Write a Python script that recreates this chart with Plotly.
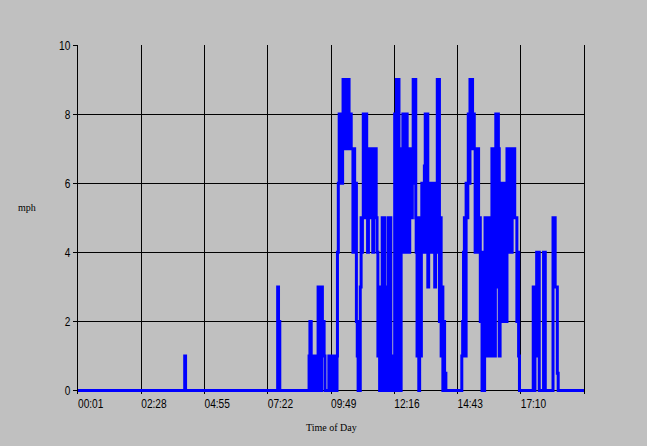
import plotly.graph_objects as go

# Time labels on the x axis (minutes after midnight for each gridline)
tick_minutes = [1, 148, 295, 442, 589, 736, 883, 1030, 1177]
tick_labels = ["00:01", "02:28", "04:55", "07:22", "09:49", "12:16", "14:43", "17:10", ""]
y_ticks = [0, 2, 4, 6, 8, 10]

# Wind speed readings (minutes after midnight, mph); each value holds until the next reading
minutes = [
    1, 249, 251, 465, 467, 470,
    538, 540, 543, 545, 547, 549, 551, 553, 555, 557, 559, 561, 563, 565, 567, 569, 571, 573, 575,
    584, 586, 588, 590, 592, 594, 596, 598, 600, 602,
    603, 604, 606, 608, 610, 612, 614, 616,
    617, 619, 621, 623, 625, 627, 629, 631,
    632, 634, 636, 638, 640, 642, 644, 646, 648,
    650, 652, 654, 656, 657, 659, 661, 662, 664, 667, 669,
    672, 674, 676, 678, 680, 682, 684, 686, 688, 690, 692, 694,
    696, 698, 700, 702, 704, 706, 708, 710, 712, 714, 716, 718, 720, 722, 724, 726, 728, 730, 732, 734,
    735, 737, 739, 741, 743, 745, 747, 748, 750, 752,
    754, 756, 758, 760, 762, 764, 766, 768, 770, 772,
    774, 776, 778, 780, 782, 784, 786,
    787, 789, 791, 793, 795, 797, 799,
    800, 802, 804, 806, 808, 810, 812, 814, 816, 818, 820, 822, 824, 826, 828, 830, 832, 834,
    836, 838, 840,
    841, 843, 845, 847, 849, 851, 853, 854, 856,
    893, 895, 897, 899, 901, 903, 905, 907,
    908, 910, 912, 914, 916, 918, 920,
    922, 924, 926, 928, 930, 932, 934,
    936, 938, 940, 942, 944, 946,
    947, 949, 951, 953, 955, 957, 959, 961,
    963, 965, 967, 969, 971, 972, 974, 976, 978, 980,
    982, 984, 986, 988, 990, 992, 994, 996,
    998, 1000, 1002, 1004, 1006, 1008, 1010, 1012, 1014, 1016,
    1018, 1021, 1023, 1025, 1027,
    1059, 1061, 1063, 1065, 1067, 1069, 1071, 1073,
    1083, 1087,
    1105, 1110, 1115, 1117, 1177,
]
mph = [
    0, 1, 0, 3, 2, 0,
    1, 2, 1, 0, 1, 0, 1, 0, 1, 0, 3, 1, 3, 0, 3, 1, 2, 1, 0,
    1, 0, 1, 0, 1, 0, 1, 0, 1, 0,
    1, 4, 6, 8, 6, 8, 6, 8,
    9, 7, 9, 8, 9, 7, 9, 8,
    7, 8, 7, 7, 4, 7, 4, 6, 2,
    1, 0, 1, 0, 3, 5, 4, 5, 8, 5, 8,
    7, 4, 7, 5, 7, 5, 7, 4, 7, 5, 7, 5,
    4, 1, 3, 0, 2, 0, 5, 0, 5, 1, 3, 0, 2, 5, 0, 5, 0, 1, 0, 1,
    0, 8, 0, 9, 2, 9, 0, 7, 0, 7,
    4, 8, 5, 8, 4, 8, 5, 7, 4, 7,
    6, 5, 6, 9, 6, 9, 5,
    4, 1, 5, 0, 3, 1, 4,
    6, 4, 6, 6.5, 8, 4, 8, 3, 6, 4, 6, 5, 6, 4, 6, 3, 6, 4,
    9, 5, 9,
    2, 5, 1, 3, 0, 2, 0, 0.5, 0,
    1, 2, 4, 5, 1, 6, 5, 6,
    8, 6, 9, 8, 9, 7, 8,
    7, 4, 7, 4, 7, 4, 5,
    2, 4, 0, 1, 0, 2,
    5, 1, 4, 1, 5, 2, 5, 1,
    7, 3, 7, 1, 7, 8, 3, 8, 7, 1,
    6, 2, 6, 3, 6, 2, 5, 2,
    7, 4, 7, 5, 7, 4, 7, 5, 7, 5,
    5, 2, 4, 1, 0,
    3, 0, 3, 1, 4, 2, 4, 0,
    4, 0,
    5, 3, 0.5, 0, 0,
]

fig = go.Figure()
fig.add_trace(go.Scatter(
    x=minutes, y=mph, mode="lines",
    line=dict(color="#0000FF", width=3, shape="hv"),
    showlegend=False, hoverinfo="skip",
))

tick_font = dict(family="Liberation Sans, Arial, sans-serif", size=13, color="#000000")
serif_font = dict(family="Liberation Serif, Times New Roman, serif", size=10, color="#000000")

fig.update_layout(
    width=647, height=446,
    margin=dict(l=78, r=63, t=45, b=52),
    paper_bgcolor="#C0C0C0", plot_bgcolor="#C0C0C0",
    xaxis=dict(
        range=[tick_minutes[0], tick_minutes[-1]],
        tickmode="array", tickvals=tick_minutes, ticktext=tick_labels,
        showgrid=True, gridcolor="#000000", gridwidth=1,
        zeroline=False, showline=False, ticks="",
        ticklabelposition="outside right",
        tickfont=tick_font,
    ),
    yaxis=dict(
        range=[-0.1, 10],
        tickmode="array", tickvals=y_ticks,
        showgrid=True, gridcolor="#000000", gridwidth=1,
        zeroline=False, showline=True, mirror=True, linecolor="#000000", linewidth=1,
        ticks="outside", ticklen=4, tickcolor="#000000",
        tickfont=tick_font,
    ),
    annotations=[
        dict(text="mph", xref="paper", yref="paper", x=-0.101, y=0.534,
             xanchor="center", yanchor="middle", showarrow=False, font=serif_font),
        dict(text="Time of Day", xref="paper", yref="paper", x=0.5, y=-0.096,
             xanchor="center", yanchor="middle", showarrow=False, font=serif_font),
    ],
)

# page styling: no body margin, grey page; condensed tick-label lettering
post = """
document.body.style.margin = '0';
document.body.style.background = '#C0C0C0';
document.querySelectorAll('.xtick text, .ytick text').forEach(function (t) {
    var w = t.getComputedTextLength();
    if (w > 0) {
        t.setAttribute('textLength', (w * 0.78).toFixed(1));
        t.setAttribute('lengthAdjust', 'spacingAndGlyphs');
    }
});
"""

fig.write_html("out.html", post_script=post, config={"displayModeBar": False})
